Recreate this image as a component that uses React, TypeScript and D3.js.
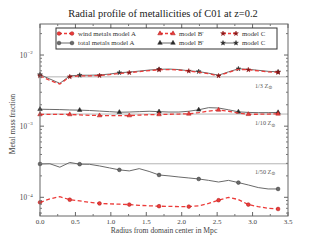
import { line, scaleLinear, scaleLog, symbol, symbolCircle, symbolStar, symbolTriangle } from "d3";

const radius = [0, 0.14, 0.28, 0.42, 0.56, 0.7, 0.84, 0.98, 1.12, 1.26, 1.4, 1.54, 1.68, 1.82, 1.96, 2.1, 2.24, 2.38, 2.52, 2.66, 2.8, 2.94, 3.08, 3.22, 3.36];

const windA = [8.5e-5, 9.5e-5, 1.02e-4, 9.25e-5, 8.9e-5, 8.5e-5, 8.2e-5, 8.1e-5, 8.0e-5, 7.9e-5, 7.7e-5, 7.6e-5, 7.5e-5, 7.45e-5, 7.4e-5, 7.4e-5, 7.6e-5, 8.2e-5, 9.1e-5, 1.0e-4, 9.3e-5, 7.9e-5, 7.4e-5, 7.0e-5, 6.85e-5];
const totalA = [2.94e-4, 2.96e-4, 2.65e-4, 3.09e-4, 2.92e-4, 2.91e-4, 2.76e-4, 2.59e-4, 2.43e-4, 2.35e-4, 2.53e-4, 2.31e-4, 2.06e-4, 2.0e-4, 1.93e-4, 1.87e-4, 1.81e-4, 1.73e-4, 1.64e-4, 1.73e-4, 1.61e-4, 1.49e-4, 1.37e-4, 1.31e-4, 1.31e-4];
const windB = [1.46e-3, 1.46e-3, 1.46e-3, 1.46e-3, 1.44e-3, 1.42e-3, 1.41e-3, 1.41e-3, 1.41e-3, 1.41e-3, 1.43e-3, 1.45e-3, 1.46e-3, 1.47e-3, 1.48e-3, 1.49e-3, 1.55e-3, 1.63e-3, 1.69e-3, 1.62e-3, 1.53e-3, 1.47e-3, 1.47e-3, 1.48e-3, 1.49e-3];
const totalB = [1.73e-3, 1.72e-3, 1.71e-3, 1.69e-3, 1.68e-3, 1.66e-3, 1.63e-3, 1.6e-3, 1.57e-3, 1.58e-3, 1.6e-3, 1.62e-3, 1.6e-3, 1.58e-3, 1.58e-3, 1.62e-3, 1.7e-3, 1.82e-3, 1.8e-3, 1.7e-3, 1.59e-3, 1.56e-3, 1.55e-3, 1.55e-3, 1.56e-3];
const windC = [5.1e-3, 4.4e-3, 3.9e-3, 4.95e-3, 5.1e-3, 5.1e-3, 5.15e-3, 5.3e-3, 5.5e-3, 5.65e-3, 5.85e-3, 6.05e-3, 6.2e-3, 6.25e-3, 6.15e-3, 5.95e-3, 5.75e-3, 5.45e-3, 5.1e-3, 5.7e-3, 6.3e-3, 6.2e-3, 6.0e-3, 5.8e-3, 5.7e-3];
const totalC = [5.3e-3, 4.6e-3, 4.0e-3, 5.1e-3, 5.2e-3, 5.2e-3, 5.25e-3, 5.4e-3, 5.65e-3, 5.75e-3, 5.95e-3, 6.15e-3, 6.3e-3, 6.35e-3, 6.25e-3, 6.0e-3, 5.85e-3, 5.55e-3, 5.2e-3, 5.8e-3, 6.4e-3, 6.3e-3, 6.1e-3, 5.9e-3, 5.8e-3];

const solarZ = 0.0148;
const solarFractions = [3, 10, 50];
const xTicks = [0, 0.5, 1, 1.5, 2, 2.5, 3, 3.5];
const yDecades = [-4, -3, -2];

const RED = "#ec3b39";
const RED_EDGE = "#a61b1b";
const GRAY = "#6a6a6a";
const DARK = "#2a2a2a";
const FONT = "'Liberation Serif', 'DejaVu Serif', serif";

type Series = {
  key: string;
  values: number[];
  color: string;
  dashed: boolean;
  shape: "circle" | "triangle" | "star";
  fill: string;
  edge: string;
  every: number;
};

const series: Series[] = [
  { key: "totalA", values: totalA, color: GRAY, dashed: false, shape: "circle", fill: GRAY, edge: "#333", every: 4 },
  { key: "windA", values: windA, color: RED, dashed: true, shape: "circle", fill: RED, edge: RED_EDGE, every: 3 },
  { key: "totalB", values: totalB, color: GRAY, dashed: false, shape: "triangle", fill: DARK, edge: DARK, every: 4 },
  { key: "windB", values: windB, color: RED, dashed: true, shape: "triangle", fill: RED, edge: RED_EDGE, every: 3 },
  { key: "totalC", values: totalC, color: GRAY, dashed: false, shape: "star", fill: DARK, edge: DARK, every: 4 },
  { key: "windC", values: windC, color: RED, dashed: true, shape: "star", fill: "#8a1414", edge: "#8a1414", every: 3 }
];

const legendRows = [
  [
    { label: "wind metals model A", s: series[1] },
    { label: "model B'", s: series[3] },
    { label: "model C", s: series[5] }
  ],
  [
    { label: "total metals model A", s: series[0] },
    { label: "model B'", s: series[2] },
    { label: "model C", s: series[4] }
  ]
];

function markerPath(shape: Series["shape"]) {
  if (shape === "circle") return symbol(symbolCircle, 11)() ?? "";
  if (shape === "triangle") return symbol(symbolTriangle, 9)() ?? "";
  return symbol(symbolStar, 7)() ?? "";
}

export default function App() {
  const width = 320;
  const height = 240;
  const margin = { top: 24, right: 32, bottom: 24, left: 40 };
  const innerWidth = width - margin.left - margin.right;
  const innerHeight = height - margin.top - margin.bottom;

  const x = scaleLinear().domain([0, 3.5]).range([0, innerWidth]);
  const y = scaleLog().domain([5.46e-5, 2.73e-2]).range([innerHeight, 0]);

  const path = line<number>()
    .x((_, i) => x(radius[i]))
    .y((d) => y(d));

  const minorTicks: number[] = [];
  for (let e = -5; e <= -2; e++) {
    for (let m = 2; m <= 9; m++) {
      const v = m * Math.pow(10, e);
      if (v >= y.domain()[0] && v <= y.domain()[1]) minorTicks.push(v);
    }
  }
  const minorX = [0.25, 0.75, 1.25, 1.75, 2.25, 2.75, 3.25];

  const legendX = 56;
  const legendY = 28;
  const colX = [3, 104, 167];

  return (
    <svg width={width} height={height} style={{ position: "absolute", left: 0, top: 0, background: "#fff" }} fontFamily={FONT}>
      <text x={163} y={17} textAnchor="middle" fontSize={10.4} fill="#222">
        Radial profile of metallicities of C01 at z=0.2
      </text>
      <g transform={`translate(${margin.left}, ${margin.top})`}>
        {solarFractions.map((f) => (
          <g key={f}>
            <line x1={0} x2={innerWidth} y1={y(solarZ / f)} y2={y(solarZ / f)} stroke="#b4b4b4" strokeWidth={1} />
            <text x={innerWidth - 33} y={y(solarZ / f) + (f === 50 ? 10 : 11)} fontSize={6.2} fill="#555">
              1/{f} Z<tspan fontSize={5} dy={1.5}>⊙</tspan>
            </text>
          </g>
        ))}

        {series.map((s) => (
          <g key={s.key}>
            <path
              d={path(s.values) ?? ""}
              fill="none"
              stroke={s.color}
              strokeWidth={s.dashed ? 1.3 : 1}
              strokeDasharray={s.dashed ? "4 2.5" : undefined}
            />
            {s.values.map((v, i) =>
              i % s.every === 0 ? (
                <path
                  key={i}
                  d={markerPath(s.shape)}
                  transform={`translate(${x(radius[i])}, ${y(v)})`}
                  fill={s.fill}
                  stroke={s.edge}
                  strokeWidth={0.5}
                />
              ) : null
            )}
          </g>
        ))}

        {/* frame and ticks */}
        <rect x={0} y={0} width={innerWidth} height={innerHeight} fill="none" stroke="#666" strokeWidth={1} />
        {xTicks.map((t) => (
          <g key={t}>
            <line x1={x(t)} x2={x(t)} y1={innerHeight} y2={innerHeight - 4} stroke="#666" />
            <line x1={x(t)} x2={x(t)} y1={0} y2={4} stroke="#666" />
            <text x={x(t)} y={innerHeight + 7.8} textAnchor="middle" fontSize={7} fill="#444">
              {t.toFixed(1)}
            </text>
          </g>
        ))}
        {minorX.map((t) => (
          <g key={t}>
            <line x1={x(t)} x2={x(t)} y1={innerHeight} y2={innerHeight - 2} stroke="#777" />
            <line x1={x(t)} x2={x(t)} y1={0} y2={2} stroke="#777" />
          </g>
        ))}
        {yDecades.map((e) => {
          const py = y(Math.pow(10, e));
          return (
            <g key={e}>
              <line x1={0} x2={4} y1={py} y2={py} stroke="#666" />
              <line x1={innerWidth} x2={innerWidth - 4} y1={py} y2={py} stroke="#666" />
              <text x={-13} y={py + 2.5} textAnchor="end" fontSize={7.2} fill="#444">
                10
              </text>
              <text x={-12.5} y={py - 0.8} textAnchor="start" fontSize={5} fill="#444">
                −{-e}
              </text>
            </g>
          );
        })}
        {minorTicks.map((v) => (
          <g key={v}>
            <line x1={0} x2={2} y1={y(v)} y2={y(v)} stroke="#777" />
            <line x1={innerWidth} x2={innerWidth - 2} y1={y(v)} y2={y(v)} stroke="#777" />
          </g>
        ))}
      </g>

      <text transform="translate(15, 124) rotate(-90)" textAnchor="middle" fontSize={7.6} fill="#444">
        Metal mass fraction
      </text>
      <text x={164} y={232.5} textAnchor="middle" fontSize={7.6} fill="#444">
        Radius from domain center in Mpc
      </text>

      <g transform={`translate(${legendX}, ${legendY})`}>
        <rect x={0} y={0} width={221} height={21} fill="#fff" stroke="#333" strokeWidth={1} />
        {legendRows.map((row, ri) =>
          row.map((item, ci) => {
            const hx = colX[ci];
            const hy = 5.5 + ri * 9.5;
            return (
              <g key={`${ri}-${ci}`}>
                <line
                  x1={hx}
                  x2={hx + 13}
                  y1={hy}
                  y2={hy}
                  stroke={item.s.color}
                  strokeWidth={item.s.dashed ? 1.3 : 1}
                  strokeDasharray={item.s.dashed ? "3 2" : undefined}
                />
                {[hx, hx + 13].map((mx) => (
                  <path
                    key={mx}
                    d={markerPath(item.s.shape)}
                    transform={`translate(${mx}, ${hy})`}
                    fill={item.s.fill}
                    stroke={item.s.edge}
                    strokeWidth={0.5}
                  />
                ))}
                <text x={hx + 19} y={hy + 2.3} fontSize={6.8} fill="#333">
                  {item.label}
                </text>
              </g>
            );
          })
        )}
      </g>
    </svg>
  );
}
